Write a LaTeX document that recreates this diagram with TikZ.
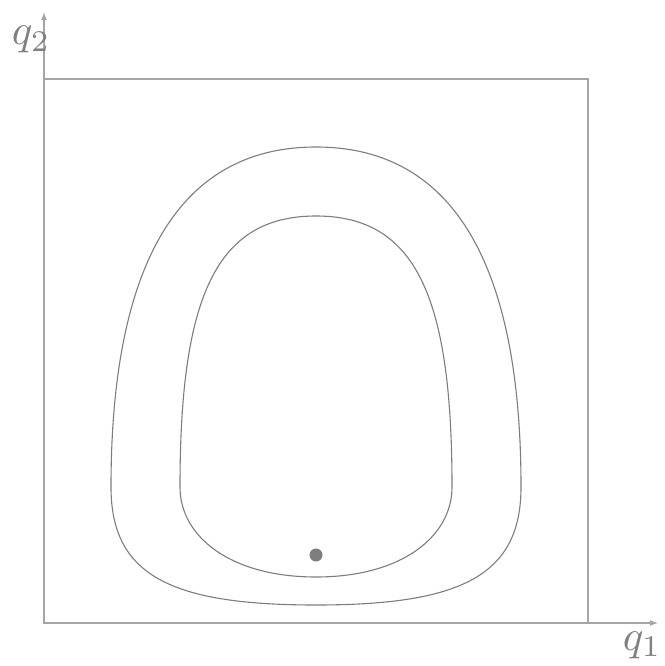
\documentclass[tikz,border=0pt]{standalone}
\usetikzlibrary{arrows.meta}
\definecolor{curvegray}{RGB}{125,125,125}
\definecolor{axisgray}{RGB}{165,165,165}
\definecolor{labelgray}{RGB}{128,128,128}
\tikzset{
  axisline/.style={draw=axisgray, line width=1.1pt},
  axisarrow/.style={axisline, -{Latex[length=8pt,width=6pt]}},
  levelset/.style={draw=curvegray, line width=1.1pt},
  axislabel/.style={text=labelgray, scale=4.3, inner sep=0pt, anchor=base west}
}
\begin{document}
\begin{tikzpicture}[x=1pt,y=-1pt]
\useasboundingbox (0,0) rectangle (664,666);
% frame
\coordinate (O) at (44,623);
\coordinate (TR) at (588,79);
\coordinate (xend) at (658,623);
\coordinate (yend) at (44,12);
\draw[axisline] (O) rectangle (TR);
\draw[axisarrow] (O) -- (xend);
\draw[axisarrow] (O) -- (yend);
\node[axislabel] (q1) at (622,650) {$q_1$};
\node[axislabel] (q2) at (11,45) {$q_2$};
% outer level set
\draw[levelset] (316,605)
  .. controls (170,605) and (111,575) .. (111,487)
  .. controls (111,287) and (166,147) .. (316,147)
  .. controls (466,147) and (521,287) .. (521,487)
  .. controls (521,575) and (462,605) .. (316,605) -- cycle;
% inner level set
\draw[levelset] (316,577)
  .. controls (231,577) and (180,537) .. (180,487)
  .. controls (180,297) and (216,216) .. (316,216)
  .. controls (416,216) and (452,297) .. (452,487)
  .. controls (452,537) and (401,577) .. (316,577) -- cycle;
% equilibrium point
\fill[curvegray] (316,555) circle (6.5);
\end{tikzpicture}
\end{document}
